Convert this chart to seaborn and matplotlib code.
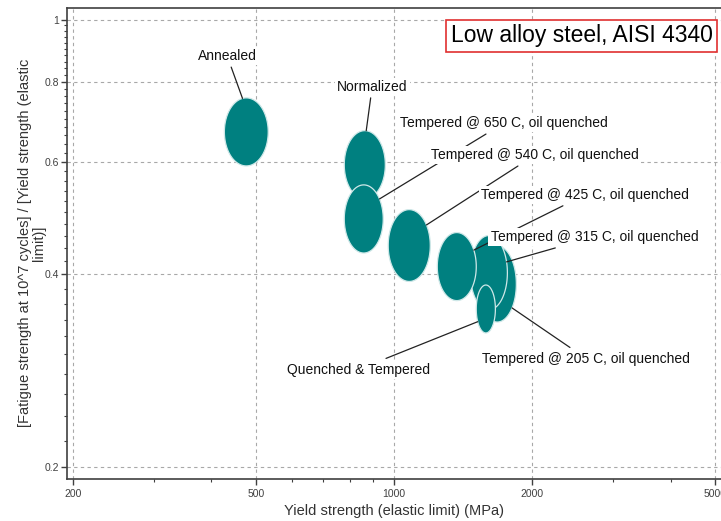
import numpy as np
import matplotlib
matplotlib.use('Agg')
import matplotlib.pyplot as plt
from matplotlib.ticker import FixedLocator, NullFormatter
import seaborn as sns

# ============ DATA (drawing order, back to front) ============
materials = ['Annealed',
             'Normalized',
             'Tempered @ 650 C, oil quenched',
             'Tempered @ 540 C, oil quenched',
             'Tempered @ 205 C, oil quenched',
             'Tempered @ 315 C, oil quenched',
             'Tempered @ 425 C, oil quenched',
             'Quenched & Tempered']
yield_lo = [427, 779, 779, 971, 1525, 1465, 1242, 1510]      # MPa
yield_hi = [532, 957, 947, 1199, 1846, 1765, 1510, 1662]
ratio_lo = [0.591, 0.525, 0.432, 0.390, 0.337, 0.352, 0.364, 0.324]
ratio_hi = [0.755, 0.671, 0.552, 0.505, 0.443, 0.460, 0.465, 0.385]

x_ticks = [200, 500, 1000, 2000, 5000]
y_ticks = [0.2, 0.4, 0.6, 0.8, 1]
y_tick_labels = ['0.2', '0.4', '0.6', '0.8', '1']

# label placement (data coords) and where the leader meets the bubble (deg)
label_pos = [(433, 0.878), (896, 0.786), (1738, 0.690), (2030, 0.615),
             (2622, 0.2954), (2730, 0.458), (2610, 0.533), (835, 0.284)]
leader_angle = [100, 86, 36, 35, -39, 17, 29, -148]

# ============ PLOT ============
sns.set_style('white')
plt.rcParams['font.family'] = ['Liberation Sans', 'DejaVu Sans']

fig = plt.figure(figsize=(7.21, 5.21), dpi=100)
ax = fig.add_axes([0.093, 0.081, 0.907, 0.904])
ax.set_xscale('log')
ax.set_yscale('log')

teal = '#008080'
t = np.linspace(0, 2 * np.pi, 200)
edge_pts = []
for i in range(len(materials)):
    lx0, lx1 = np.log10(yield_lo[i]), np.log10(yield_hi[i])
    ly0, ly1 = np.log10(ratio_lo[i]), np.log10(ratio_hi[i])
    cx, cy = (lx0 + lx1) / 2, (ly0 + ly1) / 2
    rx, ry = (lx1 - lx0) / 2, (ly1 - ly0) / 2
    ax.fill(10 ** (cx + rx * np.cos(t)), 10 ** (cy + ry * np.sin(t)),
            facecolor=teal, edgecolor='#cfe8e8', linewidth=0.9, zorder=2)
    a = np.radians(leader_angle[i])
    edge_pts.append((10 ** (cx + rx * np.cos(a)), 10 ** (cy + ry * np.sin(a))))

# leader lines first, then the labels with white boxes on top
box = dict(boxstyle='square,pad=0.3', fc='none', ec='none')
for name, (tx, ty), xy in zip(materials, label_pos, edge_pts):
    ax.annotate(name, xy=xy, xytext=(tx, ty), ha='center', va='center',
                fontsize=10, color='none', bbox=box, zorder=3,
                arrowprops=dict(arrowstyle='-', color='#222222', lw=0.9,
                                shrinkA=0, shrinkB=0))
for name, (tx, ty) in zip(materials, label_pos):
    ax.text(tx, ty, name, ha='center', va='center', fontsize=10, color='#111111',
            bbox=dict(boxstyle='square,pad=0.15', fc='white', ec='none'), zorder=4)

ax.text(0.787, 0.9406, 'Low alloy steel, AISI 4340', transform=ax.transAxes,
        ha='center', va='center', fontsize=16.5, color='black', zorder=5,
        bbox=dict(boxstyle='square,pad=0.2', fc='white', ec='#e03030', lw=1.2))

ax.set_xlim(194, 5152)
ax.set_ylim(0.1917, 1.044)

ax.xaxis.set_major_locator(FixedLocator(x_ticks))
ax.set_xticklabels([str(v) for v in x_ticks])
ax.xaxis.set_minor_locator(FixedLocator([300, 400, 600, 700, 800, 900, 3000, 4000]))
ax.xaxis.set_minor_formatter(NullFormatter())
ax.yaxis.set_major_locator(FixedLocator(y_ticks))
ax.set_yticklabels(y_tick_labels)
ax.yaxis.set_minor_locator(FixedLocator(np.arange(0.22, 1.0, 0.02)))
ax.yaxis.set_minor_formatter(NullFormatter())

ax.tick_params(which='major', direction='out', length=4, width=1, color='#404040',
               labelsize=7.5, labelcolor='#404040', bottom=True, left=True, pad=1.5)
ax.tick_params(which='minor', direction='out', length=2.5, width=0.8, color='#404040',
               bottom=True, left=True)
ax.tick_params(axis='x', which='major', pad=3)

ax.grid(True, which='major', linestyle=(0, (3, 3)), color='#a8a8a8', linewidth=0.8)
ax.set_axisbelow(True)
for side in ['left', 'bottom', 'top']:
    ax.spines[side].set_color('#404040')
    ax.spines[side].set_linewidth(1.2)
ax.spines['right'].set_visible(False)

ax.set_xlabel('Yield strength (elastic limit) (MPa)', fontsize=10.5, color='#333333')
ax.set_ylabel('[Fatigue strength at 10^7 cycles] / [Yield strength (elastic\nlimit)]',
              fontsize=10.5, color='#333333', linespacing=1.0)
ax.yaxis.set_label_coords(-0.032, 0.5)

plt.savefig('out.png', dpi=100)
